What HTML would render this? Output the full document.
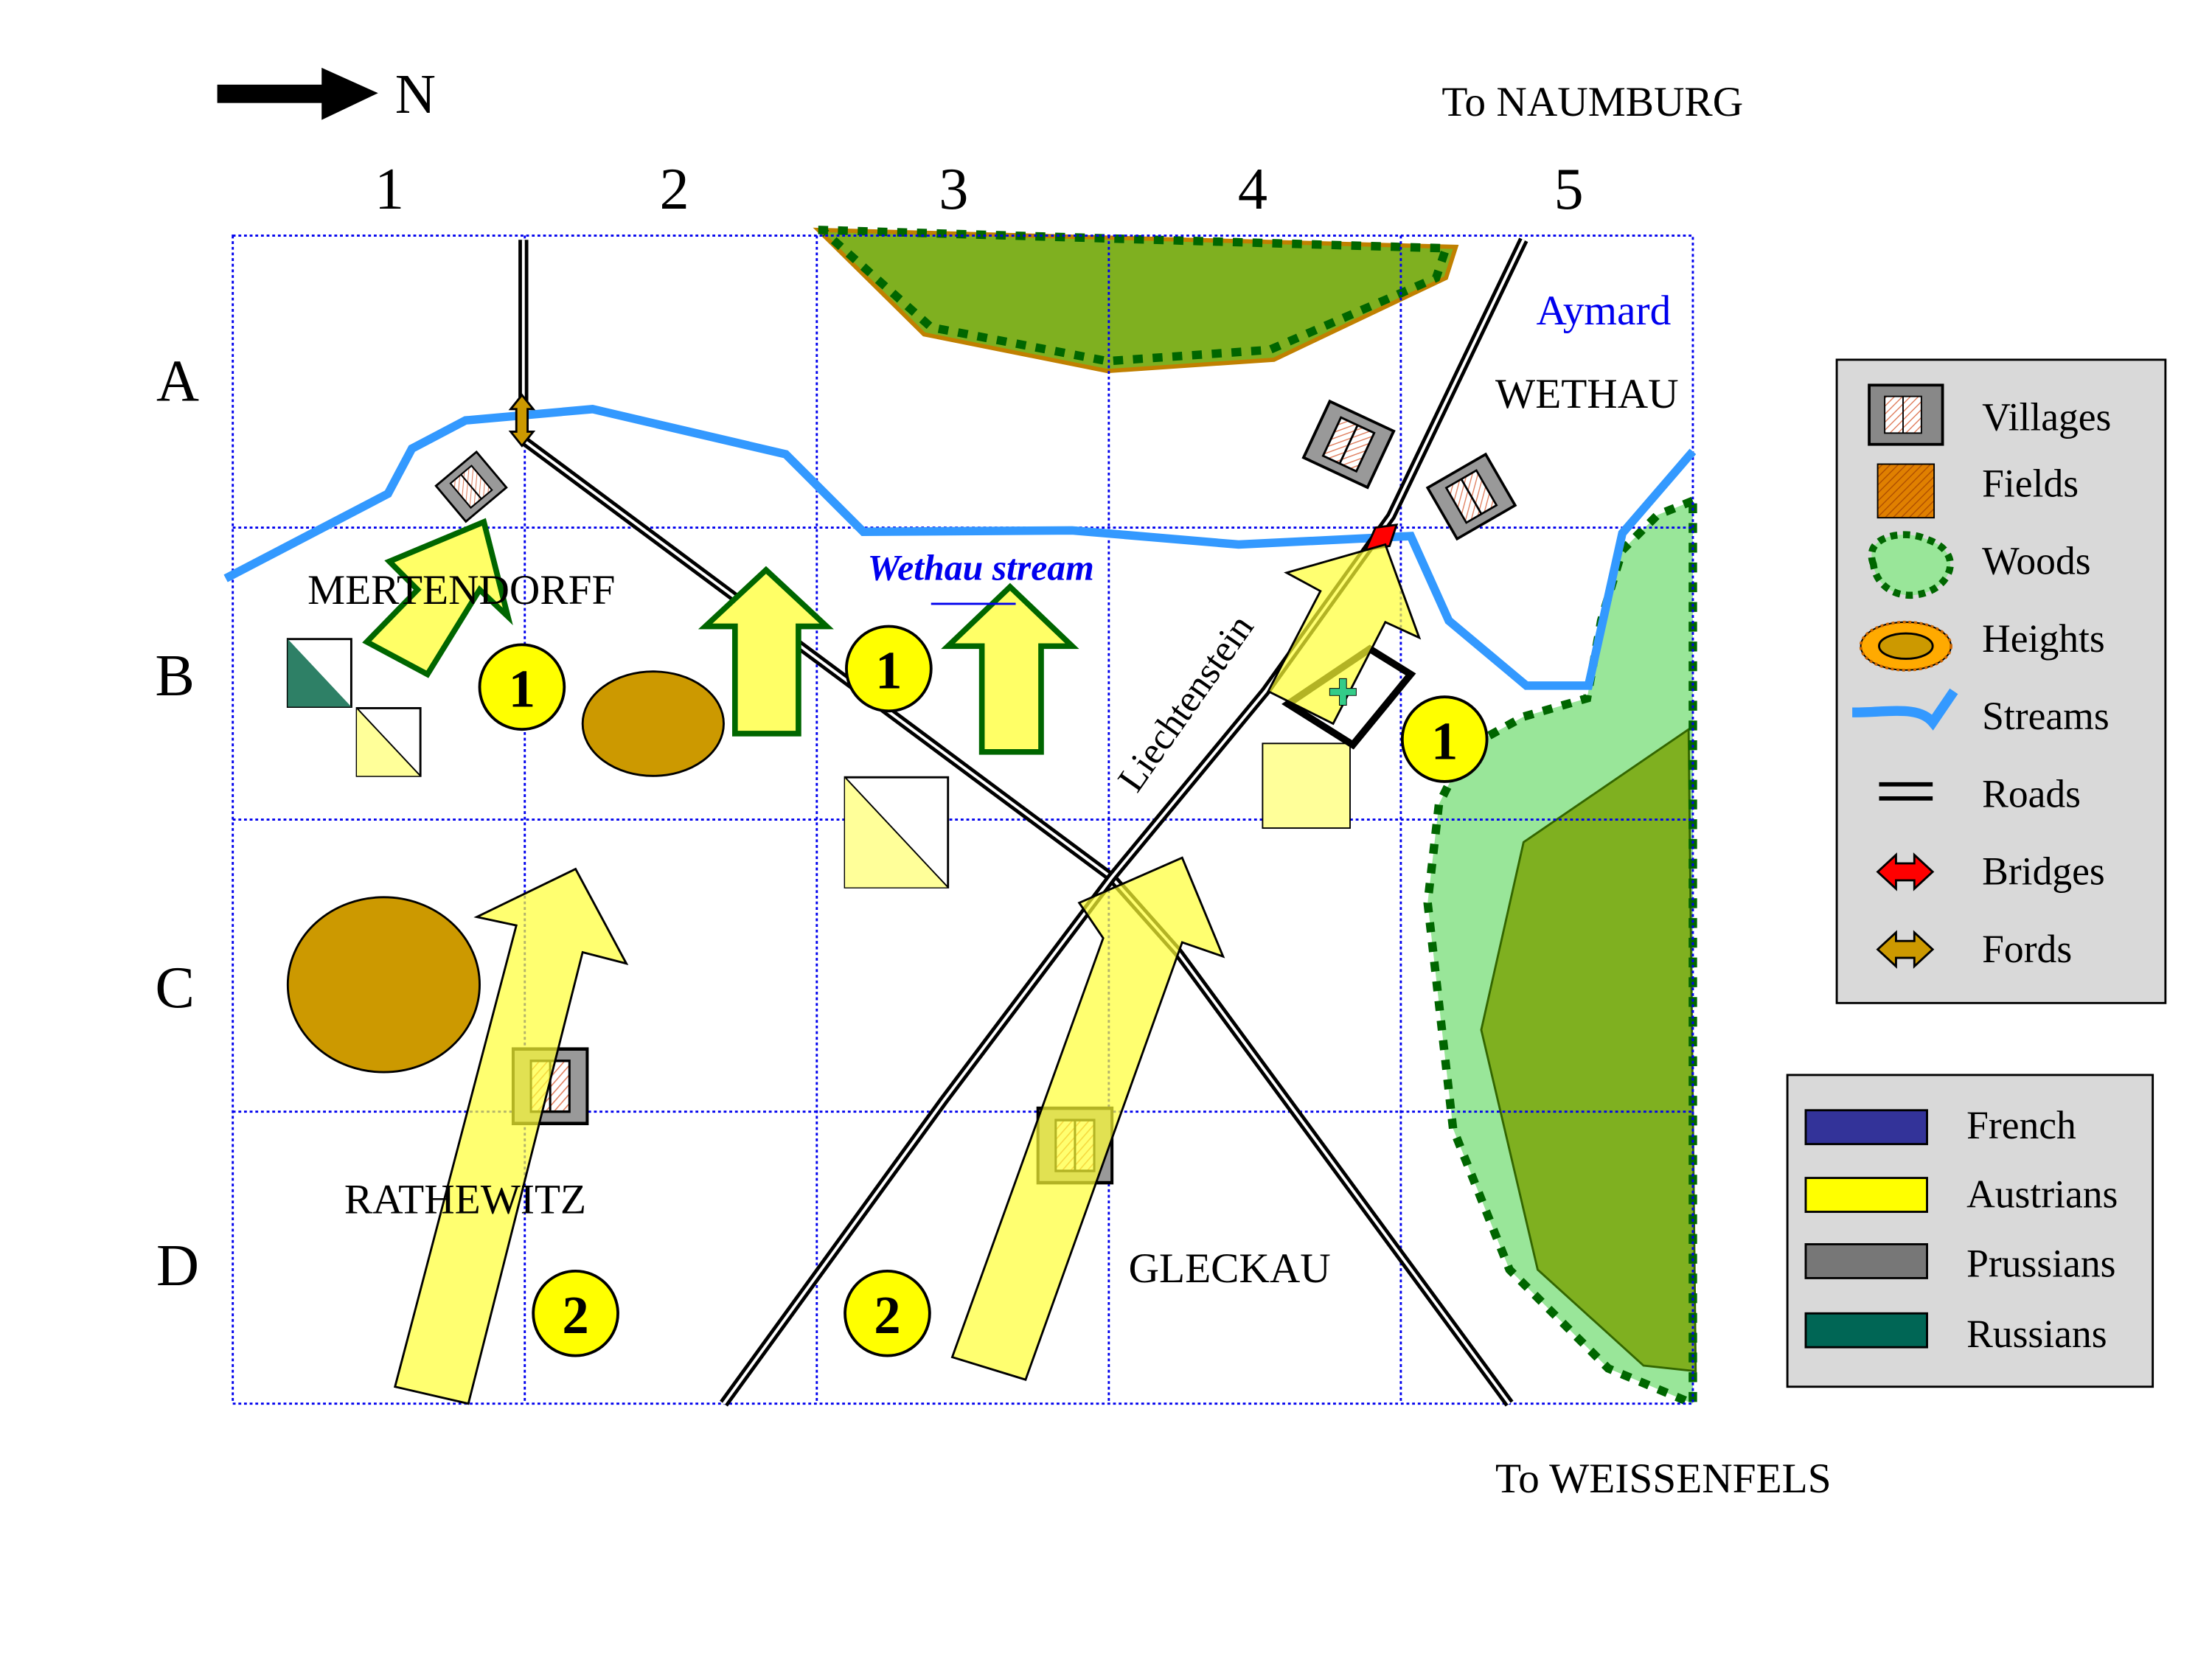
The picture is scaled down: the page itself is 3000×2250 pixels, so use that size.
<!DOCTYPE html>
<html><head><style>html,body{margin:0;padding:0;background:#fff}svg{display:block}</style></head><body>
<svg width="3000" height="2250" viewBox="0 0 1568 1176" xmlns="http://www.w3.org/2000/svg" font-family="Liberation Serif, serif">
<defs>
<pattern id="hat" width="4" height="4" patternUnits="userSpaceOnUse" patternTransform="rotate(45)"><rect width="4" height="4" fill="#fff"/><line x1="0" y1="0" x2="0" y2="4" stroke="#e08060" stroke-width="1.5"/></pattern>
<pattern id="fld" width="4" height="4" patternUnits="userSpaceOnUse" patternTransform="rotate(45)"><rect width="4" height="4" fill="#e08000"/><line x1="0" y1="0" x2="0" y2="4" stroke="#b05000" stroke-width="1.5"/></pattern>
<g id="vil"><rect x="-25" y="-22" width="50" height="44" fill="#999" stroke="#000" stroke-width="2"/><rect x="-13" y="-15" width="26" height="30" fill="url(#hat)" stroke="#000" stroke-width="1.5"/><line x1="0" y1="-15" x2="0" y2="15" stroke="#000" stroke-width="1.5"/></g>
</defs>
<polygon points="580,163 1032,175 1025,197 903,255 785,263 655,237" fill="#7fb020" stroke="#c08000" stroke-width="3"/>
<polyline points="580,163 1025,176 1018,197 900,248 785,256 660,232 585,165" fill="none" stroke="#006600" stroke-width="6" stroke-dasharray="7,7"/>
<polygon points="1200,355 1175,365 1150,390 1135,440 1125,495 1080,508 1040,530 1020,570 1012,640 1030,800 1070,900 1140,970 1200,995" fill="#99e699"/>
<polygon points="1080,597 1197,517 1202,972 1165,968 1090,900 1050,730" fill="#7fb020" stroke="#336600" stroke-width="1.5"/>
<polyline points="1200,355 1175,365 1150,390 1135,440 1125,495 1080,508 1040,530 1020,570 1012,640 1030,800 1070,900 1140,970 1200,995 1200,355" fill="none" stroke="#006600" stroke-width="6" stroke-dasharray="7,7"/>
<g stroke="#0000ee" stroke-width="1.5" stroke-dasharray="2,2" fill="none">
<rect x="165" y="167" width="1035" height="828"/>
<line x1="372" y1="167" x2="372" y2="995"/><line x1="579" y1="167" x2="579" y2="995"/><line x1="786" y1="167" x2="786" y2="995"/><line x1="993" y1="167" x2="993" y2="995"/>
<line x1="165" y1="374" x2="1200" y2="374"/><line x1="165" y1="581" x2="1200" y2="581"/><line x1="165" y1="788" x2="1200" y2="788"/>
</g>
<polyline points="160,410 275,350 292,318 330,298 420,290 557,322 612,377 760,376 878,386 1000,380 1027,440 1082,486 1126,486 1150,378 1200,320" fill="none" stroke="#3399ff" stroke-width="6"/>
<g fill="none" stroke-linejoin="round">
<polyline points="371,170 371,312 788,622 835,675 1070,995" stroke="#000" stroke-width="7"/>
<polyline points="371,170 371,312 788,622 835,675 1070,995" stroke="#fff" stroke-width="2"/>
<polyline points="1080,170 986,366 897,490 788,622 669,780 513,995" stroke="#000" stroke-width="7"/>
<polyline points="1080,170 986,366 897,490 788,622 669,780 513,995" stroke="#fff" stroke-width="2"/>
</g>
<polygon points="370,280 378,290 374,290 374,306 378,306 370,316 362,306 366,306 366,290 362,290" fill="#cc9900" stroke="#000" stroke-width="1.5"/>
<use href="#vil" transform="translate(334,345) rotate(-40) scale(0.75)"/>
<use href="#vil" transform="translate(956,315) rotate(25) scale(1)"/>
<use href="#vil" transform="translate(1043,352) rotate(-30) scale(0.95)"/>
<use href="#vil" transform="translate(390,770) scale(1.05,1.2)"/>
<use href="#vil" transform="translate(762,812) scale(1.05,1.2)"/>
<ellipse cx="463" cy="513" rx="50" ry="37" fill="#cc9900" stroke="#000" stroke-width="1.5"/>
<ellipse cx="272" cy="698" rx="68" ry="62" fill="#cc9900" stroke="#000" stroke-width="1.5"/>
<rect x="204" y="453" width="45" height="48" fill="#fff" stroke="#000" stroke-width="1.5"/><polygon points="204,453 249,501 204,501" fill="#2e8066"/>
<rect x="253" y="502" width="45" height="48" fill="#fff" stroke="#000" stroke-width="1.5"/><polygon points="253,502 298,550 253,550" fill="#ffff99"/><line x1="253" y1="502" x2="298" y2="550" stroke="#000"/>
<rect x="599" y="551" width="73" height="78" fill="#fff" stroke="#000" stroke-width="1.5"/><polygon points="599,551 672,629 599,629" fill="#ffff99"/><line x1="599" y1="551" x2="672" y2="629" stroke="#000"/>
<rect x="895" y="527" width="62" height="60" fill="#ffff99" stroke="#000" stroke-width="1"/>
<g fill="#ffff66" stroke="#006600" stroke-width="4">
<polygon points="521,520 521,444 500,444 543,404 586,444 566,444 566,520"/>
<polygon points="696,533 696,458 672,458 716,416 760,458 738,458 738,533"/>
<polygon points="260,455 296,418 276,398 343,370 360,437 340,418 303,478" />
</g>
<polygon points="971,460 1000,478 959,528 913,499" fill="none" stroke="#000" stroke-width="5"/>
<polygon points="968,390 975,374 990,372 985,387" fill="#f00" stroke="#000" stroke-width="1.5"/>
<g fill="#ffff33" fill-opacity="0.7" stroke="#000" stroke-width="1.5">
<polygon points="280,983 366,656 338,650 408,616 444,683 413,675 332,995"/>
<polygon points="675,962 782,665 765,640 838,608 867,678 838,668 727,978"/>
<polygon points="982,386 1006,452 982,441 945,513 899,490 936,419 912,406"/>
</g>
<text x="952" y="500" font-size="26" fill="#33cc88" text-anchor="middle" stroke="#000" stroke-width="0.5">✚</text>
<g font-weight="bold" font-size="38" text-anchor="middle">
<circle cx="370" cy="487" r="30" fill="#ffff00" stroke="#000" stroke-width="2"/><text x="370" y="501">1</text>
<circle cx="630" cy="474" r="30" fill="#ffff00" stroke="#000" stroke-width="2"/><text x="630" y="488">1</text>
<circle cx="1024" cy="524" r="30" fill="#ffff00" stroke="#000" stroke-width="2"/><text x="1024" y="538">1</text>
<circle cx="408" cy="931" r="30" fill="#ffff00" stroke="#000" stroke-width="2"/><text x="408" y="945">2</text>
<circle cx="629" cy="931" r="30" fill="#ffff00" stroke="#000" stroke-width="2"/><text x="629" y="945">2</text>
</g>
<g font-size="30" fill="#000">
<text x="218" y="428">MERTENDORFF</text>
<text x="244" y="860">RATHEWITZ</text>
<text x="800" y="909">GLECKAU</text>
<text x="1060" y="289">WETHAU</text>
<text x="1022" y="82">To NAUMBURG</text>
<text x="1060" y="1058">To WEISSENFELS</text>
<text x="1089" y="230" fill="#0000ee">Aymard</text>
<text x="615" y="411" fill="#0000ee" font-style="italic" font-weight="bold" font-size="26">Wethau stream</text>
<text transform="translate(806,563) rotate(-55)" font-size="27">Liechtenstein</text>
</g>
<line x1="660" y1="428" x2="720" y2="428" stroke="#0000ee" stroke-width="1.5"/>
<g font-size="42" text-anchor="middle">
<text x="276" y="148">1</text><text x="478" y="148">2</text><text x="676" y="148">3</text><text x="888" y="148">4</text><text x="1112" y="148">5</text>
<text x="126" y="284">A</text><text x="124" y="493">B</text><text x="124" y="714">C</text><text x="126" y="911">D</text>
</g>
<rect x="154" y="60" width="80" height="13" fill="#000"/><polygon points="228,48 268,66 228,85" fill="#000"/>
<text x="280" y="80" font-size="40">N</text>
<rect x="1302" y="255" width="233" height="456" fill="#d9d9d9" stroke="#000" stroke-width="1.5"/>
<g font-size="28">
<rect x="1325" y="273" width="52" height="42" fill="#888" stroke="#000" stroke-width="2"/><rect x="1336" y="281" width="26" height="26" fill="url(#hat)" stroke="#000"/><line x1="1349" y1="281" x2="1349" y2="307" stroke="#000"/>
<text x="1405" y="305">Villages</text>
<rect x="1331" y="329" width="40" height="38" fill="url(#fld)" stroke="#000"/><text x="1405" y="352">Fields</text>
<path d="M1328,400 C1320,380 1350,375 1365,382 C1390,390 1385,410 1370,418 C1350,428 1330,418 1328,400 Z" fill="#99e699" stroke="#006600" stroke-width="5" stroke-dasharray="5,4"/><text x="1405" y="407">Woods</text>
<ellipse cx="1351" cy="458" rx="32" ry="17" fill="#ffaa00" stroke="#000" stroke-width="1" /><ellipse cx="1351" cy="458" rx="32" ry="17" fill="none" stroke="#cc6600" stroke-width="2" stroke-dasharray="2,2"/><ellipse cx="1351" cy="458" rx="19" ry="9" fill="#cc9900" stroke="#000" stroke-width="1.5"/><text x="1405" y="462">Heights</text>
<path d="M1313,505 C1340,505 1360,500 1370,512 L1385,490" fill="none" stroke="#3399ff" stroke-width="7"/><text x="1405" y="517">Streams</text>
<line x1="1332" y1="556" x2="1370" y2="556" stroke="#000" stroke-width="3"/><line x1="1332" y1="566" x2="1370" y2="566" stroke="#000" stroke-width="3"/><text x="1405" y="572">Roads</text>
<polygon points="1331,618 1344,606 1344,612 1357,612 1357,606 1370,618 1357,630 1357,624 1344,624 1344,630" fill="#f00" stroke="#000" stroke-width="1.5"/><text x="1405" y="627">Bridges</text>
<polygon points="1331,673 1344,661 1344,667 1357,667 1357,661 1370,673 1357,685 1357,679 1344,679 1344,685" fill="#cc9900" stroke="#000" stroke-width="1.5"/><text x="1405" y="682">Fords</text>
</g>
<rect x="1267" y="762" width="259" height="221" fill="#d9d9d9" stroke="#000" stroke-width="1.5"/>
<g stroke="#000" stroke-width="1.5">
<rect x="1280" y="787" width="86" height="24" fill="#333399"/>
<rect x="1280" y="835" width="86" height="24" fill="#ffff00"/>
<rect x="1280" y="882" width="86" height="24" fill="#777"/>
<rect x="1280" y="931" width="86" height="24" fill="#006655"/>
</g>
<g font-size="28">
<text x="1394" y="807">French</text><text x="1394" y="856">Austrians</text><text x="1394" y="905">Prussians</text><text x="1394" y="955">Russians</text>
</g>
</svg>
</body></html>
